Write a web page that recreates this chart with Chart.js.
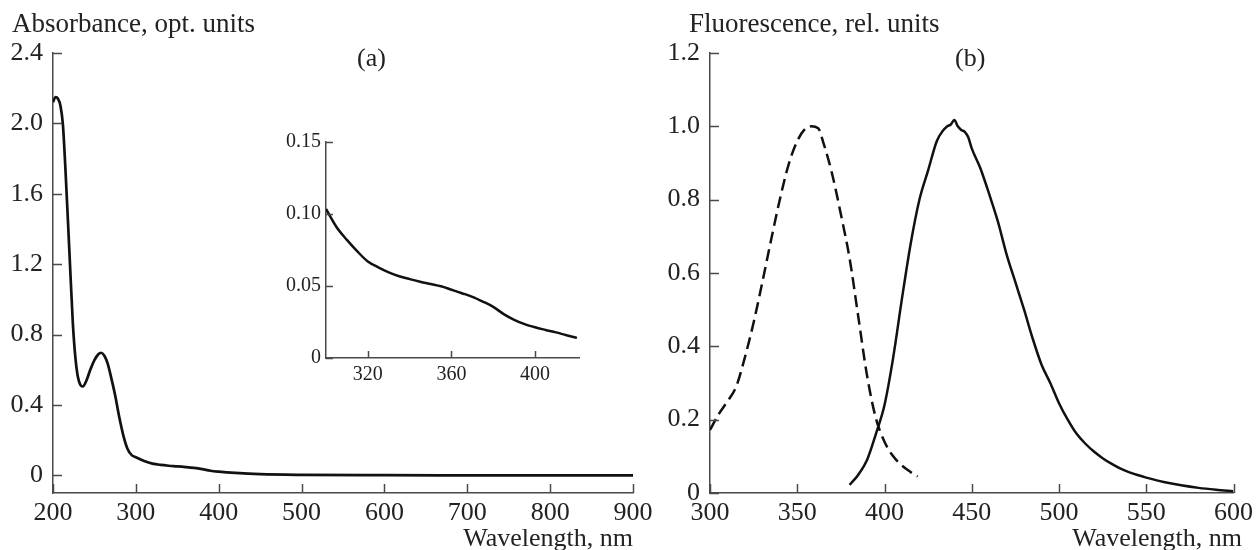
<!DOCTYPE html>
<html>
<head>
<meta charset="utf-8">
<script src="https://cdn.jsdelivr.net/npm/chart.js@4.4.1/dist/chart.umd.min.js"></script>
<style>
  html, body { margin: 0; padding: 0; background: #fff; }
  #wrap { position: relative; width: 1258px; height: 550px; overflow: hidden; background: #fff; }
  #wrap canvas { position: absolute; }
  .lbl { position: absolute; font-family: "Liberation Serif", "Times New Roman", serif; color: #222; white-space: nowrap; }
  .ttl { font-size: 27px; line-height: 27px; }
  .sub { font-size: 26px; line-height: 26px; }
</style>
</head>
<body>
<div id="wrap">
  <canvas id="chartA" width="660" height="550" style="left:0;top:0"></canvas>
  <canvas id="chartB" width="618" height="550" style="left:640px;top:0"></canvas>
  <canvas id="inset" width="330" height="280" style="left:270px;top:120px"></canvas>

  <div class="lbl ttl" style="left:12px;top:10px">Absorbance, opt. units</div>
  <div class="lbl sub" style="left:357px;top:45px">(a)</div>
  <div class="lbl sub" style="right:625px;top:525px">Wavelength, nm</div>

  <div class="lbl ttl" style="left:689px;top:10px">Fluorescence, rel. units</div>
  <div class="lbl sub" style="left:955px;top:45px">(b)</div>
  <div class="lbl sub" style="right:16px;top:525px">Wavelength, nm</div>
</div>

<script>
// (a) absorbance spectrum
const absWl = [200, 203, 206, 209, 212, 215, 218, 221, 224, 227, 230, 233, 236, 240, 245, 250, 255, 258, 262, 266, 270, 275, 280, 285, 290, 295, 300, 310, 320, 330, 340, 350, 360, 370, 380, 390, 400, 420, 450, 500, 600, 700, 800, 900];
const absVal = [2.12, 2.15, 2.14, 2.10, 1.99, 1.74, 1.45, 1.15, 0.86, 0.67, 0.56, 0.515, 0.505, 0.535, 0.60, 0.655, 0.69, 0.697, 0.68, 0.635, 0.56, 0.455, 0.33, 0.225, 0.15, 0.115, 0.103, 0.082, 0.067, 0.0595, 0.0548, 0.0514, 0.0474, 0.0425, 0.0355, 0.0265, 0.0213, 0.014, 0.007, 0.003, 0.001, 0.0005, 0, 0];

// inset, 300-420 nm
const insetWl = [300, 305, 310, 315, 320, 325, 330, 335, 340, 345, 350, 355, 360, 365, 370, 375, 380, 385, 390, 395, 400, 405, 410, 415, 420];
const insetVal = [0.1035, 0.091, 0.082, 0.074, 0.067, 0.063, 0.0595, 0.0568, 0.0548, 0.053, 0.0514, 0.0498, 0.0474, 0.045, 0.0425, 0.0392, 0.0355, 0.0305, 0.0265, 0.0235, 0.0213, 0.0195, 0.0178, 0.0158, 0.014];

// (b) excitation (dashed) and emission (solid)
const excWl = [300, 305, 310, 315, 320, 325, 330, 335, 340, 345, 350, 355, 358, 362, 365, 370, 375, 380, 385, 390, 395, 400, 405, 410, 415, 419];
const excVal = [0.172, 0.215, 0.25, 0.29, 0.37, 0.465, 0.575, 0.69, 0.80, 0.895, 0.96, 0.995, 1.0, 0.995, 0.955, 0.87, 0.76, 0.64, 0.48, 0.32, 0.205, 0.14, 0.10, 0.075, 0.057, 0.045];

const emWl = [380, 385, 390, 395, 400, 405, 410, 415, 420, 425, 430, 433, 436, 438, 440, 442, 444, 446, 448, 450, 455, 460, 465, 470, 475, 480, 485, 490, 495, 500, 505, 510, 515, 520, 525, 530, 535, 540, 545, 550, 560, 570, 580, 590, 600];
const emVal = [0.022, 0.05, 0.09, 0.16, 0.24, 0.37, 0.53, 0.68, 0.80, 0.88, 0.96, 0.985, 1.0, 1.005, 1.017, 1.0, 0.99, 0.985, 0.97, 0.94, 0.885, 0.815, 0.74, 0.65, 0.575, 0.50, 0.42, 0.35, 0.30, 0.245, 0.20, 0.162, 0.135, 0.113, 0.095, 0.08, 0.067, 0.057, 0.049, 0.042, 0.03, 0.021, 0.014, 0.009, 0.005];

// ticks
const xTicksA = [200, 300, 400, 500, 600, 700, 800, 900];
const yTicksA = [0, 0.4, 0.8, 1.2, 1.6, 2.0, 2.4];
const xTicksIn = [320, 360, 400];
const yTicksIn = [0, 0.05, 0.10, 0.15];
const xTicksB = [300, 350, 400, 450, 500, 550, 600];
const yTicksB = [0, 0.2, 0.4, 0.6, 0.8, 1.0, 1.2];

const axisColor = "#4a4a4a";
const textColor = "#222";
const lineColor = "#111";

Chart.defaults.font.family = "'Liberation Serif', 'Times New Roman', serif";
Chart.defaults.color = textColor;

const toXY = (xs, ys) => xs.map((x, i) => ({ x: x, y: ys[i] }));

// ticks are drawn inside the plot area
const inwardTicks = {
  id: "inwardTicks",
  afterDraw(chart, args, opts) {
    const { ctx, chartArea } = chart;
    const x = chart.scales.x, y = chart.scales.y;
    ctx.save();
    ctx.strokeStyle = axisColor;
    ctx.lineWidth = 1.5;
    ctx.beginPath();
    x.ticks.forEach(t => {
      const px = Math.round(x.getPixelForValue(t.value)) + 0.5;
      ctx.moveTo(px, chartArea.bottom);
      ctx.lineTo(px, chartArea.bottom - opts.len);
    });
    y.ticks.forEach(t => {
      const py = Math.round(y.getPixelForValue(t.value)) + 0.5;
      ctx.moveTo(chartArea.left, py);
      ctx.lineTo(chartArea.left + opts.len, py);
    });
    ctx.stroke();
    ctx.restore();
  }
};

function axis(min, max, ticks, fmt, size, pad, fit) {
  return {
    type: "linear",
    min: min,
    max: max,
    afterBuildTicks: s => { s.ticks = ticks.map(v => ({ value: v })); },
    afterFit: fit,
    grid: { drawOnChartArea: false, drawTicks: false },
    border: { display: true, color: axisColor, width: 1.5 },
    ticks: {
      autoSkip: false,
      maxRotation: 0,
      padding: pad,
      color: textColor,
      font: { size: size },
      callback: fmt
    }
  };
}

const fmt1 = v => (v === 0 ? "0" : v.toFixed(1));
const fmt2 = v => (v === 0 ? "0" : v.toFixed(2));
const fmtInt = v => String(v);

function baseOptions(padding, tickLen) {
  return {
    responsive: false,
    animation: false,
    layout: { padding: padding },
    plugins: {
      legend: { display: false },
      tooltip: { enabled: false },
      inwardTicks: { len: tickLen }
    },
    elements: { point: { radius: 0 } }
  };
}

// chart (a)
const optA = baseOptions({ top: 53, right: 27, left: 0, bottom: 0 }, 9);
optA.scales = {
  x: axis(200, 900, xTicksA, fmtInt, 26, 5, s => { s.height = 57; }),
  y: axis(-0.1, 2.4, yTicksA, fmt1, 26, 10, s => { s.width = 53; })
};
new Chart(document.getElementById("chartA"), {
  type: "line",
  data: {
    datasets: [{
      data: toXY(absWl, absVal),
      borderColor: lineColor,
      borderWidth: 2.7,
      cubicInterpolationMode: "monotone",
      fill: false
    }]
  },
  options: optA,
  plugins: [inwardTicks]
});

// inset
const optIn = baseOptions({ top: 22, right: 21, left: 0, bottom: 0 }, 7);
optIn.scales = {
  x: axis(300, 421, xTicksIn, fmtInt, 20, 5, s => { s.height = 42; }),
  y: axis(0, 0.15, yTicksIn, fmt2, 20, 5, s => { s.width = 56; })
};
new Chart(document.getElementById("inset"), {
  type: "line",
  data: {
    datasets: [{
      data: toXY(insetWl, insetVal),
      borderColor: lineColor,
      borderWidth: 2.5,
      cubicInterpolationMode: "monotone",
      fill: false
    }]
  },
  options: optIn,
  plugins: [inwardTicks]
});

// chart (b)
const optB = baseOptions({ top: 53, right: 20, left: 0, bottom: 0 }, 9);
optB.scales = {
  x: axis(300, 600, xTicksB, fmtInt, 26, 5, s => { s.height = 57; }),
  y: axis(0, 1.2, yTicksB, fmt1, 26, 10, s => { s.width = 70; })
};
new Chart(document.getElementById("chartB"), {
  type: "line",
  data: {
    datasets: [
      {
        data: toXY(excWl, excVal),
        borderColor: lineColor,
        borderWidth: 2.5,
        borderDash: [12, 6],
        cubicInterpolationMode: "monotone",
        fill: false
      },
      {
        data: toXY(emWl, emVal),
        borderColor: lineColor,
        borderWidth: 2.5,
        cubicInterpolationMode: "monotone",
        fill: false
      }
    ]
  },
  options: optB,
  plugins: [inwardTicks]
});
</script>
</body>
</html>
